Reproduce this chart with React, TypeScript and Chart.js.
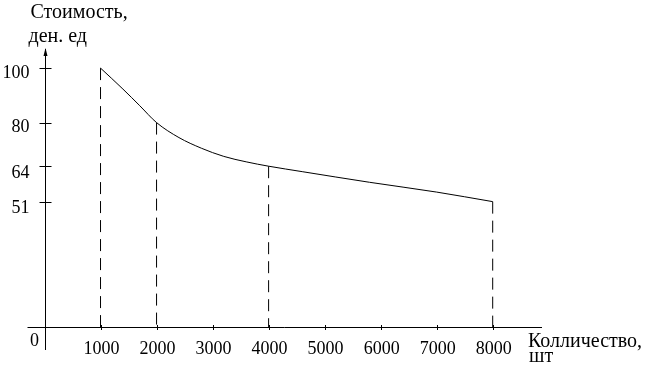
import React, { useEffect, useRef } from "react";
import { Chart, registerables } from "chart.js";

Chart.register(...registerables);

// Curve: quantity (pcs) vs cost (money units)
const quantities = [1000, 1400, 1700, 2000, 2400, 2800, 3200, 3600, 4000, 4600, 5800, 7000, 8000];
const costs = [100, 92.3, 86.2, 80, 74.5, 70.6, 67.6, 65.6, 64, 62, 58.1, 54.5, 51];

// Marked points with dashed drop lines
const markedQty = [1000, 2000, 4000, 8000];
const markedCost = [100, 80, 64, 51];

// Axis ticks
const xTicks = [1000, 2000, 3000, 4000, 5000, 6000, 7000, 8000];
const yTicks = [100, 80, 64, 51];

const xMin = 0;
const xMax = 8880;
const yMin = 5;
const yMax = 107;

const yTitle = ["Стоимость,", "ден. ед"];
const xTitle = ["Колличество,", "шт"];
const originLabel = "0";

const FONT = '"Liberation Serif", "Times New Roman", serif';

const axesPlugin = {
  id: "schematicAxes",
  afterDatasetsDraw(chart: any) {
    const { ctx } = chart;
    const xs = chart.scales.x;
    const ys = chart.scales.y;
    const ox = xs.getPixelForValue(xMin);
    const oy = ys.getPixelForValue(yMin);
    const top = ys.getPixelForValue(yMax);
    const right = xs.getPixelForValue(xMax);
    ctx.save();
    ctx.strokeStyle = "#000";
    ctx.fillStyle = "#000";
    ctx.lineWidth = 1;
    // axes
    ctx.beginPath();
    ctx.moveTo(Math.round(ox) + 0.5, top);
    ctx.lineTo(Math.round(ox) + 0.5, oy + 23);
    ctx.moveTo(ox - 17, Math.round(oy) + 0.5);
    ctx.lineTo(right, Math.round(oy) + 0.5);
    ctx.stroke();
    // arrow
    ctx.beginPath();
    ctx.moveTo(Math.round(ox) + 0.5, top - 1);
    ctx.lineTo(Math.round(ox) + 2.5, top + 7);
    ctx.lineTo(Math.round(ox) - 1.5, top + 7);
    ctx.closePath();
    ctx.fill();
    // y ticks
    ctx.beginPath();
    yTicks.forEach((v) => {
      const py = Math.round(ys.getPixelForValue(v)) + 0.5;
      ctx.moveTo(ox - 5, py);
      ctx.lineTo(ox + 7, py);
    });
    // x ticks
    xTicks.forEach((v) => {
      const px = Math.round(xs.getPixelForValue(v)) + 0.5;
      ctx.moveTo(px, oy - 2);
      ctx.lineTo(px, oy + 3);
    });
    ctx.stroke();
    // labels
    ctx.font = `18px ${FONT}`;
    ctx.textBaseline = "middle";
    ctx.textAlign = "right";
    yTicks.forEach((v, i) => {
      ctx.fillText(String(v), ox - 15, ys.getPixelForValue(v) + (i >= 2 ? 7 : 5));
    });
    ctx.textAlign = "center";
    xTicks.forEach((v) => {
      ctx.fillText(String(v), xs.getPixelForValue(v) + 1, oy + 22);
    });
    ctx.fillText(originLabel, ox - 10, oy + 14);
    // titles
    ctx.font = `20px ${FONT}`;
    ctx.textAlign = "left";
    ctx.textBaseline = "alphabetic";
    ctx.fillText(yTitle[0], ox - 14, 18);
    ctx.fillText(yTitle[1], ox - 16, 42);
    ctx.fillText(xTitle[0], right - 14, oy + 20);
    ctx.fillText(xTitle[1], right - 13, oy + 35);
    ctx.restore();
  },
};

export default function App() {
  const ref = useRef<HTMLCanvasElement | null>(null);
  useEffect(() => {
    if (!ref.current) return;
    const curve = quantities.map((q, i) => ({ x: q, y: costs[i] }));
    const drops = markedQty.map((q, i) => ({
      type: "line" as const,
      data: [
        { x: q, y: markedCost[i] },
        { x: q, y: yMin },
      ],
      borderColor: "#000",
      borderWidth: 1,
      borderDash: [12, 7],
      pointRadius: 0,
      fill: false,
    }));
    const chart = new Chart(ref.current, {
      type: "line",
      data: {
        datasets: [
          {
            data: curve,
            borderColor: "#000",
            borderWidth: 1,
            pointRadius: 0,
            cubicInterpolationMode: "monotone",
            fill: false,
          } as any,
          ...drops,
        ],
      },
      options: {
        animation: false,
        responsive: false,
        maintainAspectRatio: false,
        parsing: false as any,
        layout: { padding: { left: 44.5, right: 106, top: 49, bottom: 46 } },
        plugins: { legend: { display: false }, tooltip: { enabled: false } },
        scales: {
          x: { type: "linear", min: xMin, max: xMax, display: false },
          y: { type: "linear", min: yMin, max: yMax, display: false },
        },
      },
      plugins: [axesPlugin],
    });
    return () => chart.destroy();
  }, []);
  return (
    <div style={{ position: "fixed", left: 0, top: 0, width: 648, height: 373, background: "#fff" }}>
      <canvas ref={ref} width={648} height={373} style={{ width: 648, height: 373, display: "block" }} />
    </div>
  );
}
